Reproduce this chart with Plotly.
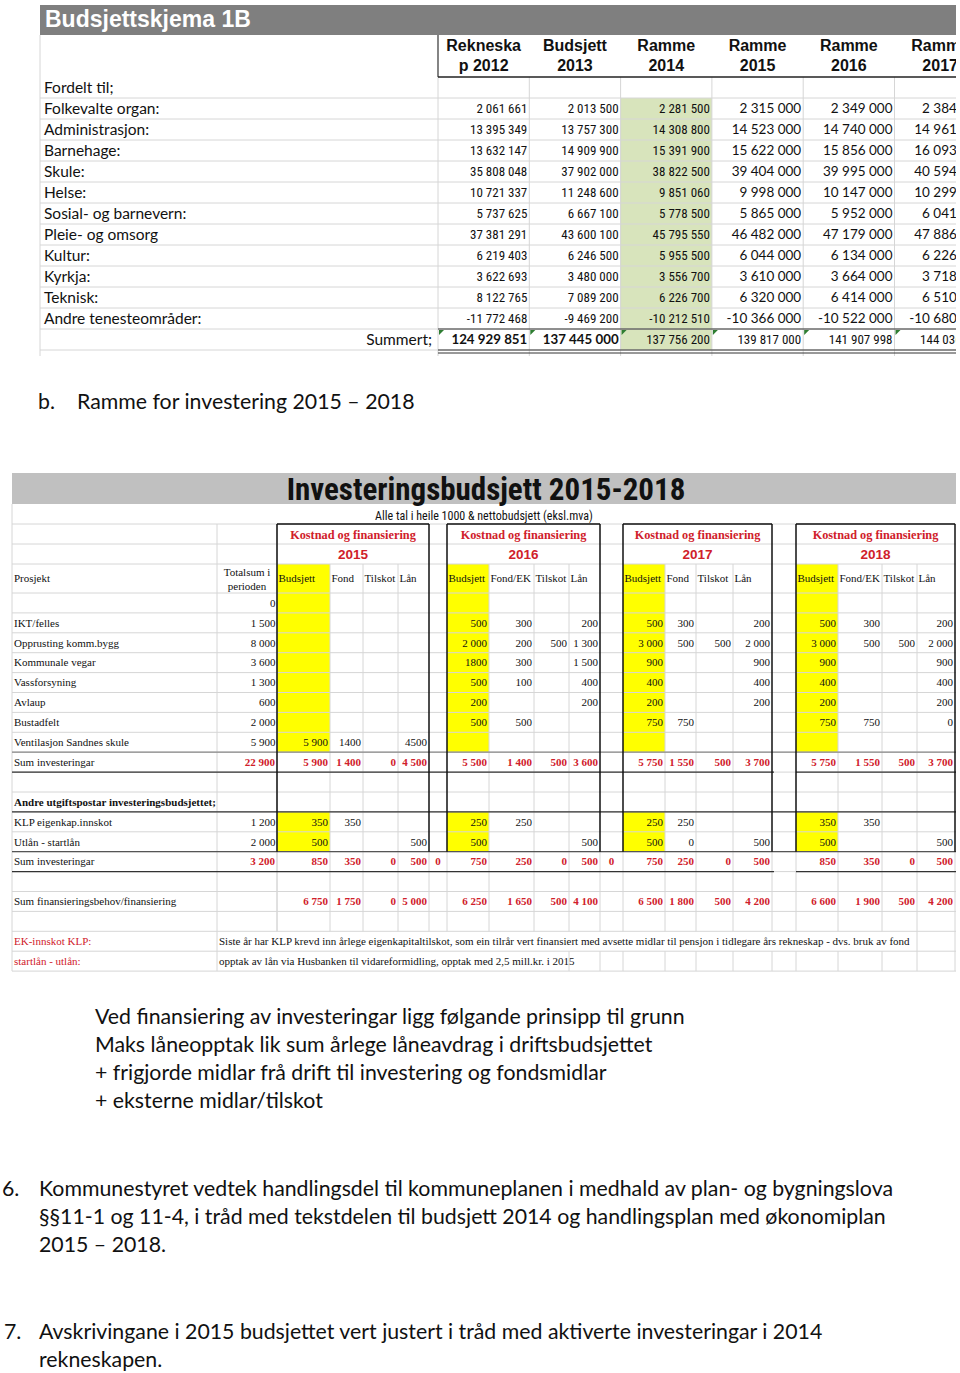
import plotly.graph_objects as go

# ======================= DATA =======================
# --- Budsjettskjema 1B ---
T1_TITLE = "Budsjettskjema 1B"
T1_HEAD_TOP = ["Rekneska", "Budsjett", "Ramme", "Ramme", "Ramme", "Ramme"]
T1_HEAD_BOT = ["p 2012", "2013", "2014", "2015", "2016", "2017"]
T1_SECTION = "Fordelt til;"
T1_LABELS = ["Folkevalte organ:", "Administrasjon:", "Barnehage:", "Skule:", "Helse:",
             "Sosial- og barnevern:", "Pleie- og omsorg", "Kultur:", "Kyrkja:", "Teknisk:",
             "Andre tenesteområder:"]
T1_SUM_LABEL = "Summert;"
REKNESKAP_2012 = [2061661, 13395349, 13632147, 35808048, 10721337, 5737625, 37381291,
                  6219403, 3622693, 8122765, -11772468]
BUDSJETT_2013 = [2013500, 13757300, 14909900, 37902000, 11248600, 6667100, 43600100,
                 6246500, 3480000, 7089200, -9469200]
RAMME_2014 = [2281500, 14308800, 15391900, 38822500, 9851060, 5778500, 45795550,
              5955500, 3556700, 6226700, -10212510]
RAMME_2015 = [2315000, 14523000, 15622000, 39404000, 9998000, 5865000, 46482000,
              6044000, 3610000, 6320000, -10366000]
RAMME_2016 = [2349000, 14740000, 15856000, 39995000, 10147000, 5952000, 47179000,
              6134000, 3664000, 6414000, -10522000]
RAMME_2017 = [2384000, 14961000, 16093000, 40594000, 10299000, 6041000, 47886000,
              6226000, 3718000, 6510000, -10680000]
SUMMERT = [124929851, 137445000, 137756200, 139817000, 141907998, 144036000]

# --- Investeringsbudsjett 2015-2018 ---
T2_TITLE = "Investeringsbudsjett 2015-2018"
T2_SUBTITLE = "Alle tal i heile 1000 & nettobudsjett (eksl.mva)"
BLOCK_TITLE = "Kostnad og finansiering"
YEARS = ["2015", "2016", "2017", "2018"]
BLOCK_HEADS = [["Budsjett", "Fond", "Tilskot", "Lån"],
               ["Budsjett", "Fond/EK", "Tilskot", "Lån"],
               ["Budsjett", "Fond", "Tilskot", "Lån"],
               ["Budsjett", "Fond/EK", "Tilskot", "Lån"]]
PROSJEKT_HEAD = "Prosjekt"
TOTAL_HEAD = ["Totalsum i", "perioden"]
PROJECTS = ["", "IKT/felles", "Opprusting komm.bygg", "Kommunale vegar", "Vassforsyning",
            "Avlaup", "Bustadfelt", "Ventilasjon Sandnes skule"]
TOTALSUM = [0, 1500, 8000, 3600, 1300, 600, 2000, 5900]
N = None
# rows of [Budsjett, Fond, Tilskot, Lån] per year
INV_2015 = [[N, N, N, N]] * 7 + [[5900, "1400", N, "4500"]]
INV_2016 = [[N, N, N, N], [500, 300, N, 200], [2000, 200, 500, 1300], ["1800", 300, N, 1500],
            [500, 100, N, 400], [200, N, N, 200], [500, 500, N, N], [N, N, N, N]]
INV_2017 = [[N, N, N, N], [500, 300, N, 200], [3000, 500, 500, 2000], [900, N, N, 900],
            [400, N, N, 400], [200, N, N, 200], [750, 750, N, N], [N, N, N, N]]
INV_2018 = [[N, N, N, N], [500, 300, N, 200], [3000, 500, 500, 2000], [900, N, N, 900],
            [400, N, N, 400], [200, N, N, 200], [750, 750, N, 0], [N, N, N, N]]
SUM_INV_LABEL = "Sum investeringar"
SUM_INV_TOTAL = 22900
SUM_INV = [[5900, 1400, 0, 4500], [5500, 1400, 500, 3600], [5750, 1550, 500, 3700], [5750, 1550, 500, 3700]]
ANDRE_LABEL = "Andre utgiftspostar investeringsbudsjettet;"
OTHER_ITEMS = ["KLP eigenkap.innskot", "Utlån - startlån"]
OTHER_TOTAL = [1200, 2000]
OTHER_2015 = [[350, 350, N, N], [500, N, N, 500]]
OTHER_2016 = [[250, 250, N, N], [500, N, N, 500]]
OTHER_2017 = [[250, 250, N, N], [500, 0, N, 500]]
OTHER_2018 = [[350, 350, N, N], [500, N, N, 500]]
SUM_OTHER_TOTAL = 3200
SUM_OTHER = [[850, 350, 0, 500], [750, 250, 0, 500], [750, 250, 0, 500], [850, 350, 0, 500]]
SUM_OTHER_GAP = [0, 0, N]
SUM_FIN_LABEL = "Sum finansieringsbehov/finansiering"
SUM_FIN = [[6750, 1750, 0, 5000], [6250, 1650, 500, 4100], [6500, 1800, 500, 4200], [6600, 1900, 500, 4200]]
NOTE_LABELS = ["EK-innskot KLP:", "startlån - utlån:"]
NOTE_TEXTS = ["Siste år har KLP krevd inn årlege eigenkapitaltilskot, som ein tilrår vert finansiert med avsette midlar til pensjon i tidlegare års rekneskap - dvs. bruk av fond",
              "opptak av lån via Husbanken til vidareformidling, opptak med 2,5 mill.kr. i 2015"]

# --- document text ---
SECTION_B = ("b.", "Ramme for investering 2015 – 2018")
PRINCIPLES = ["Ved finansiering av investeringar ligg følgande prinsipp til grunn",
              "Maks låneopptak lik sum årlege låneavdrag i driftsbudsjettet",
              "+ frigjorde midlar frå drift til investering og fondsmidlar",
              "+ eksterne midlar/tilskot"]
ITEM6 = ("6.", ["Kommunestyret vedtek handlingsdel til kommuneplanen i medhald av plan- og bygningslova",
                "§§11-1 og 11-4, i tråd med tekstdelen til budsjett 2014 og handlingsplan med økonomiplan",
                "2015 – 2018."])
ITEM7 = ("7.", ["Avskrivingane i 2015 budsjettet vert justert i tråd med aktiverte investeringar i 2014",
                "rekneskapen."])

# ======================= STYLE / LAYOUT =======================
W, H = 960, 1373
XMAX = 956
NARROW = "Liberation Sans Narrow, Arial Narrow, Roboto Condensed, sans-serif"
ARIAL = "Liberation Sans, Arial, sans-serif"
CALIBRI = "Lato, Carlito, Calibri, sans-serif"
SERIF = "Liberation Serif, Times New Roman, serif"
RED = "#d0202a"
GRID = "#d6d6d6"
BODY = 21.3
LBL = 15.5
SER = 11


def fmt(v):
    if v is None:
        return ""
    if isinstance(v, str):
        return v
    s = f"{abs(v):,}".replace(",", " ")
    return ("-" if v < 0 else "") + s


groups = {}


def txt(x, y, t, family, size, color="#000", pos="middle left", bold=False):
    if t == "" or t is None:
        return
    key = (family, size, color, pos)
    g = groups.setdefault(key, ([], [], []))
    g[0].append(x)
    g[1].append(y)
    g[2].append(f"<b>{t}</b>" if bold else t)


shapes = []


def rect(x0, y0, x1, y1, fill):
    shapes.append(dict(type="rect", xref="x", yref="y", x0=x0, y0=y0, x1=x1, y1=y1,
                       fillcolor=fill, line=dict(width=0), layer="below"))


def line(x0, y0, x1, y1, color=GRID, width=1, layer="below"):
    shapes.append(dict(type="line", xref="x", yref="y", x0=x0, y0=y0, x1=x1, y1=y1,
                       line=dict(color=color, width=width), layer=layer))


# ---------------- Table 1 ----------------
T1_X0 = 40
T1_BAR = (5, 35)
T1_HEAD_BOTTOM = 77
T1_ROW_H = 21
T1_COL0 = 438
T1_COL_W = 91.3
T1_NROWS = 13
T1_DY = 1.5
t1_edges = [T1_COL0 + i * T1_COL_W for i in range(7)]
t1_row_top = lambda i: T1_HEAD_BOTTOM + i * T1_ROW_H
t1_row_mid = lambda i: T1_HEAD_BOTTOM + (i + 0.5) * T1_ROW_H + T1_DY
t1_bottom = t1_row_top(T1_NROWS)

rect(T1_X0, T1_BAR[0], XMAX, T1_BAR[1], "#7f7f7f")
rect(t1_edges[2], t1_row_top(1), t1_edges[3], t1_bottom, "#d8e4bc")
for i in range(1, T1_NROWS + 1):
    line(T1_X0, t1_row_top(i), XMAX, t1_row_top(i))
line(T1_X0, T1_BAR[1], T1_X0, t1_bottom + 6)
for e in t1_edges[:-1]:
    line(e, T1_HEAD_BOTTOM, e, t1_bottom + 6)
line(t1_edges[0], T1_BAR[1], t1_edges[0], T1_HEAD_BOTTOM, "#333", 1.2, "above")
line(t1_edges[0], T1_HEAD_BOTTOM, XMAX, T1_HEAD_BOTTOM, "#222", 1.4, "above")
line(t1_edges[0], t1_row_top(12), XMAX, t1_row_top(12), "#333", 1, "above")
line(t1_edges[0], t1_bottom, XMAX, t1_bottom, "#333", 1, "above")
line(t1_edges[0], t1_bottom + 3, XMAX, t1_bottom + 3, "#333", 1, "above")
for e in t1_edges[:-1]:
    shapes.append(dict(type="path", xref="x", yref="y",
                       path=f"M {e + 1},{t1_row_top(12) + 1} L {e + 6},{t1_row_top(12) + 1} L {e + 1},{t1_row_top(12) + 6} Z",
                       fillcolor="#2e7d32", line=dict(width=0), layer="above"))

txt(T1_X0 + 5, (T1_BAR[0] + T1_BAR[1]) / 2 + 1.5, T1_TITLE, ARIAL, 23, "#ffffff", "middle right", True)
for c in range(6):
    cx = (t1_edges[c] + t1_edges[c + 1]) / 2
    txt(cx, 46.5, T1_HEAD_TOP[c], ARIAL, 16, "#111", "middle center", True)
    txt(cx, 66.5, T1_HEAD_BOT[c], ARIAL, 16, "#111", "middle center", True)
txt(T1_X0 + 4, t1_row_mid(0), T1_SECTION, CALIBRI, LBL, "#111", "middle right")
cols = [REKNESKAP_2012, BUDSJETT_2013, RAMME_2014, RAMME_2015, RAMME_2016, RAMME_2017]
for r, lab in enumerate(T1_LABELS):
    y = t1_row_mid(r + 1)
    txt(T1_X0 + 4, y, lab, CALIBRI, LBL, "#111", "middle right")
    for c, col in enumerate(cols):
        fam, sz = (NARROW, 13) if c < 3 else (CALIBRI, 13.5)
        txt(t1_edges[c + 1] - 2, y, fmt(col[r]), fam, sz, "#111")
y = t1_row_mid(12)
txt(t1_edges[0] - 6, y, T1_SUM_LABEL, CALIBRI, LBL, "#111")
for c, v in enumerate(SUMMERT):
    if c < 2:
        txt(t1_edges[c + 1] - 2, y, fmt(v), CALIBRI, 13.3, "#111", bold=True)
    else:
        txt(t1_edges[c + 1] - 2, y, fmt(v), NARROW, 13, "#111")

# ---------------- Section b ----------------
txt(38, 403.5, SECTION_B[0], CALIBRI, BODY, "#111", "middle right")
txt(77, 403.5, SECTION_B[1], CALIBRI, BODY, "#111", "middle right")

# ---------------- Table 2 ----------------
T2_X0 = 12
T2_BAR = (473, 504)
T2_SUB = (504, 524)
T2_KOST = (524, 544)
T2_YEAR = (544, 564)
T2_HEAD = (564, 593)
T2_ROW_H = 19.9
T2_NROWS = 19
T2_DY = 1
t2_top = lambda i: T2_HEAD[1] + i * T2_ROW_H
t2_mid = lambda i: T2_HEAD[1] + (i + 0.5) * T2_ROW_H + T2_DY
t2_bottom = t2_top(T2_NROWS)
C_TOT = (217, 277)
BLOCK_EDGES = [[277, 330, 363, 398, 429], [447, 489, 534, 569, 600],
               [623, 665, 696, 733, 772], [796, 838, 882, 917, 955]]
NOTE_END = [900, 566]

rect(T2_X0, T2_BAR[0], XMAX, T2_BAR[1], "#c0c0c0")
for be in BLOCK_EDGES:
    rect(be[0], T2_HEAD[0], be[1], t2_top(8), "#ffff00")
    rect(be[0], t2_top(11), be[1], t2_top(13), "#ffff00")
# horizontal grid
for yy in [T2_SUB[1], T2_KOST[1], T2_YEAR[1]] + [t2_top(i) for i in range(0, T2_NROWS + 1)]:
    line(T2_X0, yy, XMAX, yy)
line(T2_X0, T2_BAR[1], T2_X0, t2_bottom)
# vertical grid
vx = list(C_TOT) + [e for be in BLOCK_EDGES for e in be[1:4]]
for x in vx:
    y0 = T2_KOST[0] if x in C_TOT else T2_HEAD[0]
    line(x, y0, x, t2_top(17))
    for k, end in enumerate(NOTE_END):
        if x < 219 or x > end:
            line(x, t2_top(17 + k), x, t2_top(18 + k))
for be in BLOCK_EDGES:
    for x in (be[0], be[-1]):
        for k, end in enumerate(NOTE_END):
            if x > end:
                line(x, t2_top(17 + k), x, t2_top(18 + k))
        line(x, t2_top(13), x, t2_top(17))
# dark rules
line(T2_X0, t2_top(8), XMAX, t2_top(8), "#8a8a8a", 1.2, "above")
for yy in (t2_top(9), t2_top(14)):
    line(T2_X0, yy, BLOCK_EDGES[2][-1] + 2, yy, "#333", 1.3, "above")
    line(BLOCK_EDGES[3][0], yy, XMAX, yy, "#333", 1.3, "above")
line(T2_X0, t2_top(11), XMAX, t2_top(11), "#333", 1.3, "above")
line(T2_X0, t2_top(13), XMAX, t2_top(13), "#555", 1.2, "above")
for be in BLOCK_EDGES:
    line(be[0], T2_KOST[0], be[-1], T2_KOST[0], "#111", 1.5, "above")
    for x in (be[0], be[-1]):
        line(x, T2_KOST[0], x, t2_top(13), "#111", 1.5, "above")

txt((T2_X0 + XMAX) / 2 + 2, (T2_BAR[0] + T2_BAR[1]) / 2 + 3.5, T2_TITLE, NARROW, 31, "#111", "middle center", True)
txt(484, (T2_SUB[0] + T2_SUB[1]) / 2 + 3, T2_SUBTITLE, NARROW, 12, "#111", "middle center")
for b, be in enumerate(BLOCK_EDGES):
    cx = (be[0] + be[-1]) / 2
    txt(cx, (T2_KOST[0] + T2_KOST[1]) / 2 + 2, BLOCK_TITLE, SERIF, 12.3, RED, "middle center", True)
    txt(cx, (T2_YEAR[0] + T2_YEAR[1]) / 2 + 2, YEARS[b], ARIAL, 13.5, RED, "middle center", True)
    for k, h in enumerate(BLOCK_HEADS[b]):
        txt(be[k] + 1.5, (T2_HEAD[0] + T2_HEAD[1]) / 2 + 1, h, SERIF, SER, "#111", "middle right")
txt(T2_X0 + 2, (T2_HEAD[0] + T2_HEAD[1]) / 2 + 1, PROSJEKT_HEAD, SERIF, SER, "#111", "middle right")
txt(sum(C_TOT) / 2, T2_HEAD[0] + 9, TOTAL_HEAD[0], SERIF, SER, "#111", "middle center")
txt(sum(C_TOT) / 2, T2_HEAD[0] + 23, TOTAL_HEAD[1], SERIF, SER, "#111", "middle center")

blocks_inv = [INV_2015, INV_2016, INV_2017, INV_2018]
for r, name in enumerate(PROJECTS):
    y = t2_mid(r)
    txt(T2_X0 + 2, y, name, SERIF, SER, "#111", "middle right")
    txt(C_TOT[1] - 1.5, y, fmt(TOTALSUM[r]), SERIF, SER, "#111")
    for b, be in enumerate(BLOCK_EDGES):
        for k, v in enumerate(blocks_inv[b][r]):
            txt(be[k + 1] - 2, y, fmt(v), SERIF, SER, "#111")


def sum_row(ri, label, total, vals, gap=None):
    y = t2_mid(ri)
    txt(T2_X0 + 2, y, label, SERIF, SER, "#111", "middle right")
    txt(C_TOT[1] - 2, y, fmt(total), SERIF, SER, RED, bold=True)
    for b, be in enumerate(BLOCK_EDGES):
        for k, v in enumerate(vals[b]):
            txt(be[k + 1] - 2, y, fmt(v), SERIF, SER, RED, bold=True)
    if gap:
        for b, g in enumerate(gap):
            if g is not None:
                gx = (BLOCK_EDGES[b][-1] + BLOCK_EDGES[b + 1][0]) / 2
                txt(gx, y, fmt(g), SERIF, SER, RED, "middle center", True)


sum_row(8, SUM_INV_LABEL, SUM_INV_TOTAL, SUM_INV)
txt(T2_X0 + 2, t2_mid(10), ANDRE_LABEL, SERIF, SER, "#111", "middle right", True)
blocks_other = [OTHER_2015, OTHER_2016, OTHER_2017, OTHER_2018]
for j, name in enumerate(OTHER_ITEMS):
    y = t2_mid(11 + j)
    txt(T2_X0 + 2, y, name, SERIF, SER, "#111", "middle right")
    txt(C_TOT[1] - 1.5, y, fmt(OTHER_TOTAL[j]), SERIF, SER, "#111")
    for b, be in enumerate(BLOCK_EDGES):
        for k, v in enumerate(blocks_other[b][j]):
            txt(be[k + 1] - 2, y, fmt(v), SERIF, SER, "#111")
sum_row(13, SUM_INV_LABEL, SUM_OTHER_TOTAL, SUM_OTHER, SUM_OTHER_GAP)
sum_row(15, SUM_FIN_LABEL, None, SUM_FIN)
for j in range(2):
    y = t2_mid(17 + j)
    txt(T2_X0 + 2, y, NOTE_LABELS[j], SERIF, SER, RED, "middle right")
    txt(C_TOT[0] + 2, y, NOTE_TEXTS[j], SERIF, SER, "#111", "middle right")

# ---------------- Document text ----------------
BODY_DY = 2.5
for i, t in enumerate(PRINCIPLES):
    txt(95, 1016 + 28 * i + BODY_DY, t, CALIBRI, BODY, "#111", "middle right")
for num, lines_, y0, nx in [(ITEM6[0], ITEM6[1], 1188, 2), (ITEM7[0], ITEM7[1], 1331, 4)]:
    txt(nx, y0 + BODY_DY, num, CALIBRI, BODY, "#111", "middle right")
    for i, t in enumerate(lines_):
        txt(39, y0 + 28 * i + BODY_DY, t, CALIBRI, BODY, "#111", "middle right")

# ======================= FIGURE =======================
fig = go.Figure()
for (family, size, color, pos), (xs, ys, ts) in groups.items():
    fig.add_trace(go.Scatter(x=xs, y=ys, text=ts, mode="text", textposition=pos,
                             textfont=dict(family=family, size=size, color=color),
                             hoverinfo="skip", showlegend=False, cliponaxis=True))
fig.update_layout(
    width=W, height=H, margin=dict(l=0, r=0, t=0, b=0),
    paper_bgcolor="white", plot_bgcolor="white", shapes=shapes,
    xaxis=dict(range=[0, XMAX], domain=[0, XMAX / W], visible=False, fixedrange=True),
    yaxis=dict(range=[H, 0], domain=[0, 1], visible=False, fixedrange=True),
)
fig.write_html("out.html", config={"displayModeBar": False},
               post_script="document.body.style.margin='0px';document.body.style.padding='0px';")
